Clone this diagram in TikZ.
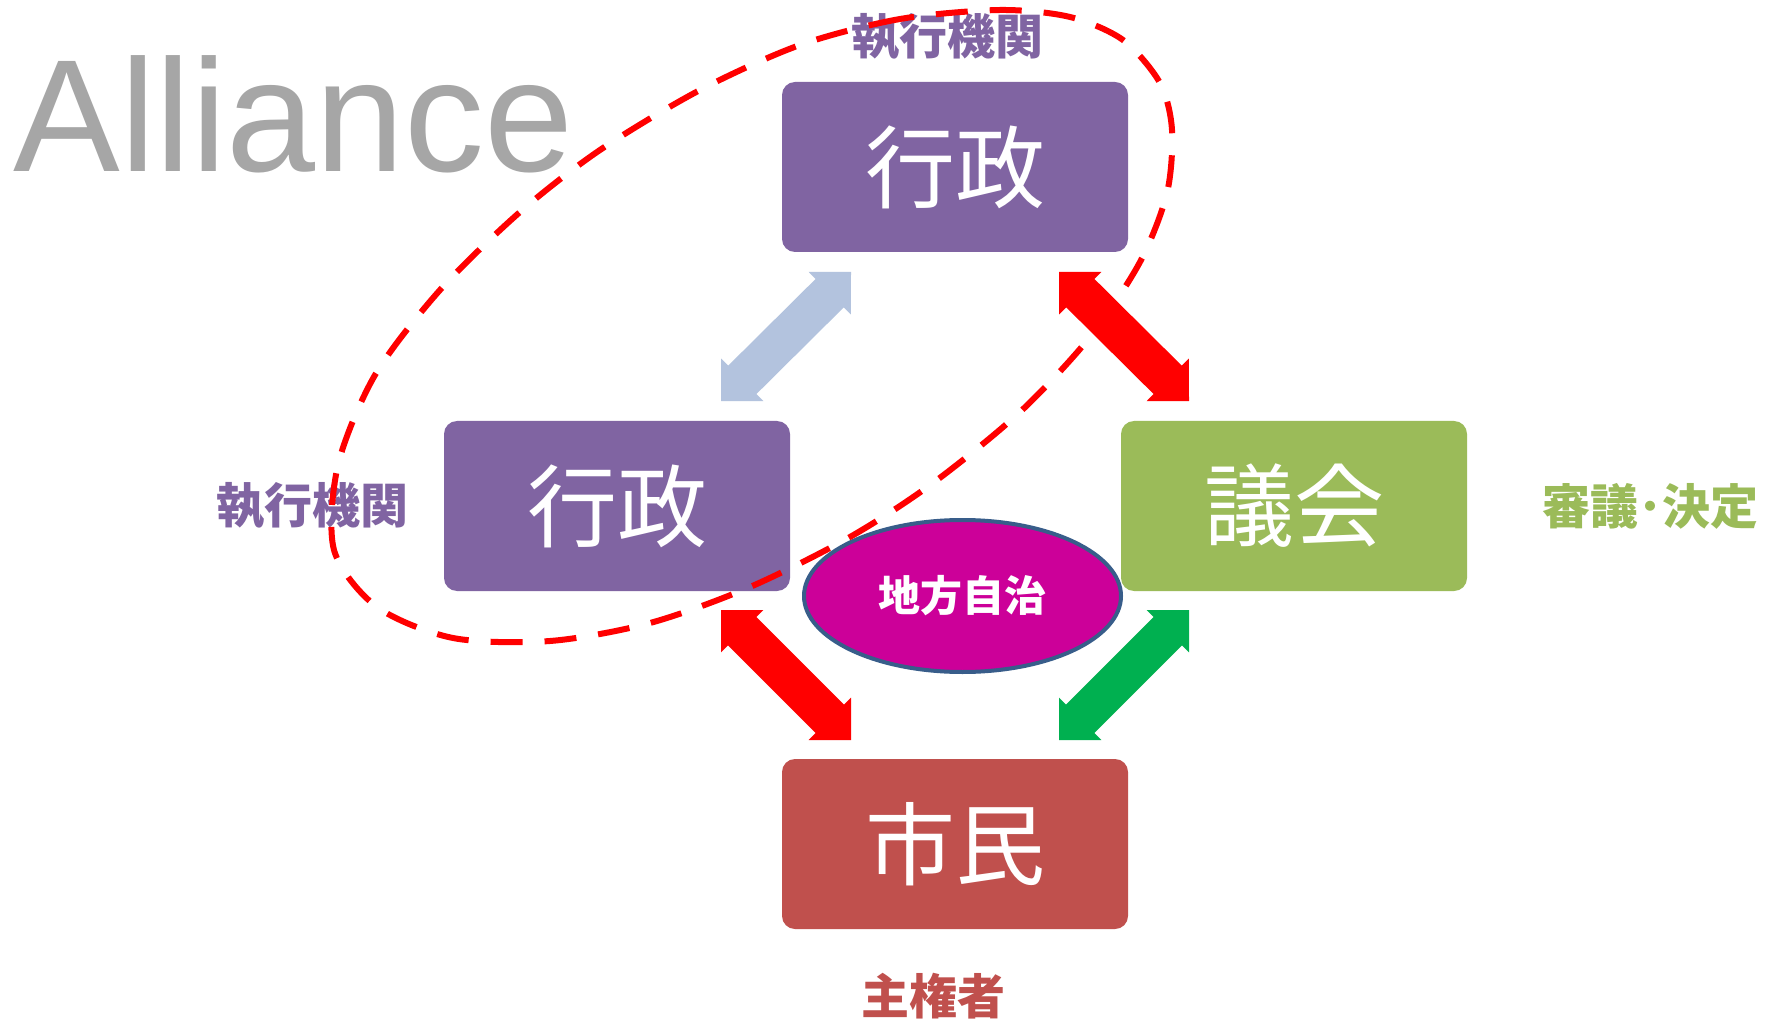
\documentclass[tikz,border=0pt]{standalone}
\usepackage{fontspec}
\setmainfont{Liberation Sans}
\newfontfamily\jp{Noto Sans CJK JP}
\usetikzlibrary{calc,shapes.geometric}
\definecolor{purp}{HTML}{8064A2}
\definecolor{grn}{HTML}{9BBB59}
\definecolor{redbox}{HTML}{C0504D}
\definecolor{lblue}{HTML}{B3C3DE}
\definecolor{arrred}{HTML}{FF0000}
\definecolor{arrgrn}{HTML}{00B050}
\definecolor{magen}{HTML}{CC0099}
\definecolor{elledge}{HTML}{385D8A}
\definecolor{allgray}{HTML}{A6A6A6}
\newcommand\blockarr[3]{%
 \fill[#3] (#1)
 -- ($($(#1)!15pt!(#2)$)!15pt!90:(#2)$)
 -- ($($(#1)!15pt!(#2)$)!10pt!90:(#2)$)
 -- ($($(#2)!15pt!(#1)$)!10pt!-90:(#1)$)
 -- ($($(#2)!15pt!(#1)$)!15pt!-90:(#1)$)
 -- (#2)
 -- ($($(#2)!15pt!(#1)$)!15pt!90:(#1)$)
 -- ($($(#2)!15pt!(#1)$)!10pt!90:(#1)$)
 -- ($($(#1)!15pt!(#2)$)!10pt!-90:(#2)$)
 -- ($($(#1)!15pt!(#2)$)!15pt!-90:(#2)$)
 -- cycle;}
\begin{document}
\begin{tikzpicture}[x=0.5pt,y=-0.5pt,
  box/.style={rounded corners=6.5pt, minimum width=173pt, minimum height=85pt,
    inner sep=0pt, text=white, font=\jp\fontsize{45}{54}\selectfont},
  lbl/.style={inner sep=0pt, font=\jp\bfseries\fontsize{24}{28}\selectfont},
  loop/.style={draw=arrred, line width=3pt, dash pattern=on 16pt off 11pt}]
\useasboundingbox (0,0) rectangle (1766,1021);
\fill[white] (0,0) rectangle (1766,1021);

\node[anchor=base west, inner sep=0pt, text=allgray, font=\fontsize{80}{96}\selectfont] (title) at (13,172) {Alliance};

\node[box, fill=purp] (gtop) at (955,167) {行政};
\node[box, fill=purp] (gleft) at (617,506) {行政};
\node[box, fill=grn] (gikai) at (1294,506) {議会};
\node[box, fill=redbox] (shimin) at (955,844) {市民};

\node[lbl, text=purp] (ltop) at (947,37) {執行機関};
\node[lbl, text=purp] (lleft) at (312,506) {執行機関};
\node[lbl, text=grn] (lright) at (1650,506) {審議･決定};
\node[lbl, text=redbox] (lbottom) at (933,996) {主権者};

\coordinate (a1s) at (721,401); \coordinate (a1e) at (851,272);
\coordinate (a2s) at (1059,272); \coordinate (a2e) at (1189,401);
\coordinate (a3s) at (721,610); \coordinate (a3e) at (851,740);
\coordinate (a4s) at (1059,740); \coordinate (a4e) at (1189,610);
\blockarr{a1s}{a1e}{lblue}
\blockarr{a2s}{a2e}{arrred}
\blockarr{a3s}{a3e}{arrred}
\blockarr{a4s}{a4e}{arrgrn}

\node[ellipse, draw=elledge, line width=2pt, fill=magen, minimum width=158.5pt,
  minimum height=76pt, inner sep=0pt, text=white,
  font=\jp\bfseries\fontsize{21}{25}\selectfont] (chiho) at (962.5,596) {地方自治};

\draw[loop] plot[smooth cycle] coordinates {(1000,10) (900,19) (800,45) (700,90)
  (600,150) (520,212) (440,290) (375,375) (338,465) (334,550) (377,607) (453,638)
  (550,641) (650,623) (750,587) (850,537) (933,483) (1020,412) (1090,337)
  (1140,262) (1167,193) (1172,130) (1160,83) (1123,40) (1070,17)};
\end{tikzpicture}
\end{document}
